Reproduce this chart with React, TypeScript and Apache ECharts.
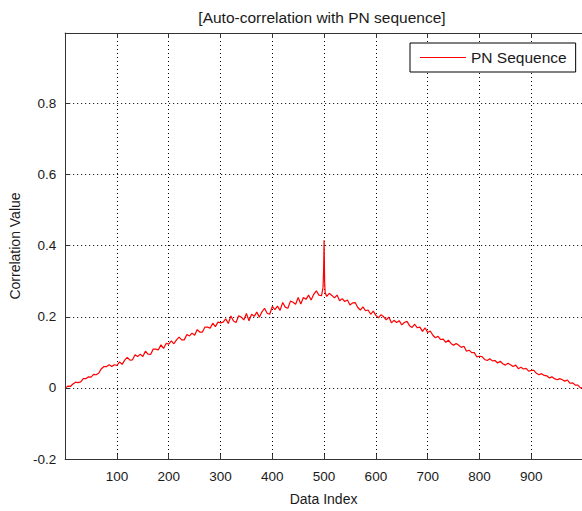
import React, { useEffect, useRef } from "react";
import * as echarts from "echarts";

const chartTitle = "[Auto-correlation with PN sequence]";
const seriesName = "PN Sequence";
const xAxisName = "Data Index";
const yAxisName = "Correlation Value";

const xMin = 0;
const xMax = 998;
const xInterval = 100;
const yMin = -0.2;
const yMax = 0.998;
const yInterval = 0.2;

const dataIndex = [
  1, 5, 10, 15, 20, 25, 30, 35, 40, 45, 50, 55, 60, 65, 70, 75, 80, 85, 90, 95,
  100, 105, 110, 115, 120, 125, 130, 135, 140, 145, 150, 155, 160, 165, 170, 175, 180, 185, 190, 195,
  200, 205, 210, 215, 220, 225, 230, 235, 240, 245, 250, 255, 260, 265, 270, 275, 280, 285, 290, 295,
  300, 305, 310, 315, 320, 325, 330, 335, 340, 345, 350, 355, 360, 365, 370, 375, 380, 385, 390, 395,
  400, 405, 410, 415, 420, 425, 430, 435, 440, 445, 450, 455, 460, 465, 470, 475, 480, 485, 490, 495,
  498, 499, 500, 501, 502,
  505, 510, 515, 520, 525, 530, 535, 540, 545, 550, 555, 560, 565, 570, 575, 580, 585, 590, 595,
  600, 605, 610, 615, 620, 625, 630, 635, 640, 645, 650, 655, 660, 665, 670, 675, 680, 685, 690, 695,
  700, 705, 710, 715, 720, 725, 730, 735, 740, 745, 750, 755, 760, 765, 770, 775, 780, 785, 790, 795,
  800, 805, 810, 815, 820, 825, 830, 835, 840, 845, 850, 855, 860, 865, 870, 875, 880, 885, 890, 895,
  900, 905, 910, 915, 920, 925, 930, 935, 940, 945, 950, 955, 960, 965, 970, 975, 980, 985, 990, 995,
  999,
];

const correlationValues = [
  0.0, 0.005, 0.004, 0.011, 0.016, 0.015, 0.017, 0.026, 0.026, 0.031, 0.03, 0.038, 0.037, 0.042, 0.054, 0.06, 0.06, 0.065, 0.06, 0.065,
  0.063, 0.073, 0.066, 0.078, 0.086, 0.078, 0.079, 0.093, 0.088, 0.095, 0.088, 0.103, 0.095, 0.094, 0.109, 0.109, 0.107, 0.121, 0.111, 0.125,
  0.123, 0.132, 0.124, 0.135, 0.143, 0.135, 0.135, 0.15, 0.146, 0.154, 0.148, 0.164, 0.157, 0.157, 0.171, 0.171, 0.168, 0.182, 0.172, 0.185,
  0.183, 0.185, 0.194, 0.181, 0.202, 0.188, 0.184, 0.203, 0.199, 0.191, 0.209, 0.189, 0.207, 0.201, 0.213, 0.199, 0.214, 0.224, 0.21, 0.207,
  0.229, 0.22, 0.23, 0.218, 0.24, 0.227, 0.224, 0.244, 0.241, 0.235, 0.254, 0.236, 0.254, 0.249, 0.261, 0.247, 0.263, 0.273, 0.261, 0.259,
  0.283, 0.33, 0.415, 0.3, 0.268,
  0.257, 0.266, 0.26, 0.253, 0.261, 0.245, 0.251, 0.243, 0.247, 0.233, 0.239, 0.24, 0.226, 0.219, 0.228, 0.217, 0.219, 0.207, 0.216,
  0.204, 0.197, 0.206, 0.2, 0.191, 0.199, 0.183, 0.19, 0.184, 0.189, 0.177, 0.184, 0.187, 0.175, 0.17, 0.179, 0.169, 0.171, 0.159, 0.169,
  0.156, 0.16, 0.148, 0.141, 0.145, 0.136, 0.137, 0.128, 0.134, 0.125, 0.12, 0.125, 0.12, 0.114, 0.117, 0.103, 0.106, 0.099, 0.099, 0.087,
  0.089, 0.088, 0.08, 0.077, 0.082, 0.076, 0.077, 0.07, 0.075, 0.068, 0.064, 0.069, 0.065, 0.06, 0.064, 0.054, 0.058, 0.053, 0.055, 0.047,
  0.049, 0.049, 0.041, 0.037, 0.04, 0.035, 0.034, 0.028, 0.031, 0.026, 0.023, 0.026, 0.023, 0.019, 0.022, 0.013, 0.014, 0.008, 0.008, 0.0,
  0.0,
];

const FONT = "'Liberation Sans', Arial, Helvetica, sans-serif";
const TEXT_COLOR = "#1a1a1a";
const AXIS_COLOR = "#333333";

export default function App() {
  const ref = useRef<HTMLDivElement | null>(null);

  useEffect(() => {
    if (!ref.current) return;
    const chart = echarts.init(ref.current, null, { renderer: "svg" });
    const seriesData = dataIndex.map((idx, i) => [idx, correlationValues[i]]);
    const gridLine = { show: true, lineStyle: { color: "#000000", width: 1, type: [1, 3] as any } };

    chart.setOption({
      animation: false,
      backgroundColor: "#ffffff",
      textStyle: { fontFamily: FONT },
      grid: { left: 62, top: 33, right: 0, bottom: 45.3, containLabel: false },
      graphic: [
        {
          type: "text",
          x: 322,
          y: 17.5,
          style: {
            text: chartTitle,
            align: "center",
            verticalAlign: "middle",
            fontFamily: FONT,
            fontSize: 15.5,
            fill: TEXT_COLOR,
          },
        },
      ],
      legend: {
        show: true,
        left: 410,
        top: 43,
        orient: "vertical",
        padding: [6, 9, 6, 10],
        itemWidth: 46,
        itemHeight: 1.2,
        icon: "rect",
        itemStyle: { color: "#ff0000", borderWidth: 0 },
        backgroundColor: "#ffffff",
        borderColor: "#000000",
        borderWidth: 1,
        borderRadius: 0,
        textStyle: { fontFamily: FONT, fontSize: 15.5, lineHeight: 17, color: TEXT_COLOR },
        data: [seriesName],
      },
      xAxis: [
        {
          type: "value",
          min: xMin,
          max: xMax,
          interval: xInterval,
          name: xAxisName,
          nameLocation: "middle",
          nameGap: 33,
          nameTextStyle: { fontFamily: FONT, fontSize: 14, color: TEXT_COLOR },
          axisLine: { show: true, onZero: false, lineStyle: { color: AXIS_COLOR, width: 1 } },
          axisTick: { show: true, inside: true, length: 5, lineStyle: { color: AXIS_COLOR } },
          axisLabel: {
            show: true,
            margin: 10,
            fontFamily: FONT,
            fontSize: 13.5,
            color: TEXT_COLOR,
            showMinLabel: false,
            showMaxLabel: false,
          },
          splitLine: gridLine,
        },
        {
          type: "value",
          position: "top",
          min: xMin,
          max: xMax,
          interval: xInterval,
          axisLine: { show: true, onZero: false, lineStyle: { color: AXIS_COLOR, width: 1 } },
          axisTick: { show: true, inside: true, length: 5, lineStyle: { color: AXIS_COLOR } },
          axisLabel: { show: false },
          splitLine: { show: false },
        },
      ],
      yAxis: [
        {
          type: "value",
          min: yMin,
          max: yMax,
          interval: yInterval,
          name: yAxisName,
          nameLocation: "middle",
          nameGap: 37,
          nameTextStyle: { fontFamily: FONT, fontSize: 14, color: TEXT_COLOR },
          axisLine: { show: true, onZero: false, lineStyle: { color: AXIS_COLOR, width: 1 } },
          axisTick: { show: true, inside: true, length: 5, lineStyle: { color: AXIS_COLOR } },
          axisLabel: {
            show: true,
            margin: 9,
            fontFamily: FONT,
            fontSize: 13.5,
            color: TEXT_COLOR,
            showMaxLabel: false,
            formatter: (v: number) => String(Math.round(v * 10) / 10),
          },
          splitLine: gridLine,
        },
      ],
      series: [
        {
          name: seriesName,
          type: "line",
          xAxisIndex: 0,
          yAxisIndex: 0,
          data: seriesData,
          showSymbol: false,
          symbol: "none",
          lineStyle: { color: "#ff0000", width: 1.2 },
          itemStyle: { color: "#ff0000" },
          emphasis: { disabled: true },
        },
      ],
    });

    return () => {
      chart.dispose();
    };
  }, []);

  return (
    <div
      ref={ref}
      style={{ position: "fixed", left: 0, top: 0, width: 582, height: 511, background: "#ffffff" }}
    />
  );
}
